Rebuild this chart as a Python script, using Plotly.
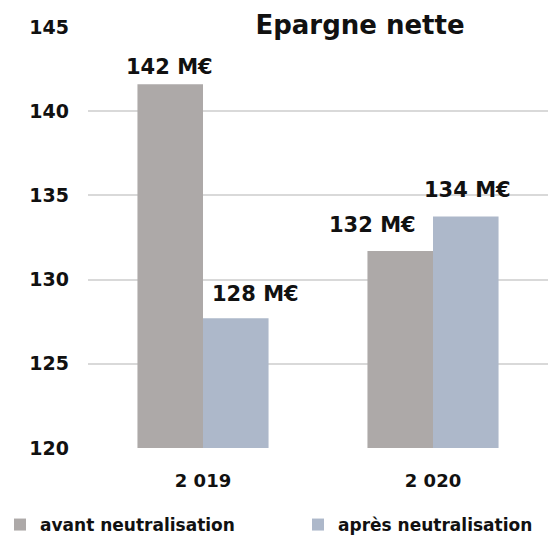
import plotly.graph_objects as go

categories = ["2 019", "2 020"]
avant = [141.6, 131.7]
apres = [127.7, 133.75]
avant_labels = ["142 M€", "132 M€"]
apres_labels = ["128 M€", "134 M€"]
y_ticks = [120, 125, 130, 135, 140, 145]

# label nudges in pixels (styling only): (xshift, yshift) per bar
avant_nudge = [(-34, 3), (-61, 12)]
apres_nudge = [(52, 10), (34, 12)]

FONT = "DejaVu Sans"
DARK = "#111111"
lab_font = dict(family=FONT, size=21, color=DARK, weight="bold")

fig = go.Figure()
fig.add_trace(go.Bar(
    x=categories, y=avant, name="avant neutralisation",
    marker=dict(color="#ADA9A8", line=dict(width=0)),
    legend="legend", hoverinfo="skip",
))
fig.add_trace(go.Bar(
    x=categories, y=apres, name="après neutralisation",
    marker=dict(color="#ADB8CA", line=dict(width=0)),
    legend="legend2", hoverinfo="skip",
))

for vals, labels, nudges in ((avant, avant_labels, avant_nudge), (apres, apres_labels, apres_nudge)):
    for cat, v, lab, (dx, dy) in zip(categories, vals, labels, nudges):
        fig.add_annotation(x=cat, y=v, text=lab, showarrow=False, xanchor="center", yanchor="bottom",
                           xshift=dx, yshift=dy, font=lab_font)

leg_common = dict(orientation="h", xref="container", yref="container", yanchor="middle",
                  y=1 - 525 / 539, xanchor="left", bgcolor="rgba(0,0,0,0)",
                  font=dict(family=FONT, size=17, color=DARK, weight="bold"))

fig.update_layout(
    width=548, height=539,
    margin=dict(l=88, r=0, t=27, b=91, autoexpand=False),
    paper_bgcolor="white", plot_bgcolor="white",
    barmode="group", bargap=0.43, bargroupgap=0,
    font=dict(family=FONT, color=DARK),
    title=dict(text="Epargne nette", x=360 / 548, xanchor="center", xref="container",
               y=1 - 25 / 539, yanchor="middle", yref="container",
               font=dict(family=FONT, size=26, color=DARK, weight="bold")),
    yaxis=dict(range=[120, 145], tickvals=y_ticks, showgrid=True, gridcolor="#D9D9D9", gridwidth=1.6,
               zeroline=False, showline=False, ticks="", ticklabelstandoff=18,
               tickfont=dict(family=FONT, size=19, color=DARK, weight="bold")),
    xaxis=dict(showline=False, ticks="", ticklabelstandoff=20,
               tickfont=dict(family=FONT, size=18, color=DARK, weight="bold")),
    legend=dict(x=0, **leg_common),
    legend2=dict(x=298 / 548, **leg_common),
    showlegend=True,
)
fig.write_html("out.html", post_script="document.body.style.margin='0';",
               config={"displayModeBar": False})
